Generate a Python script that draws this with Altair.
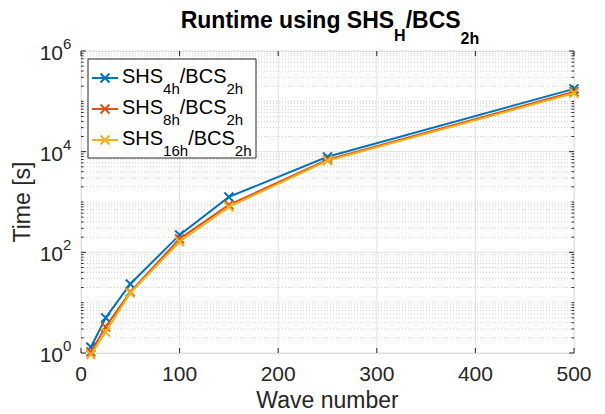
import altair as alt
import pandas as pd

# ---------------- data ----------------
wave = [10, 25, 50, 100, 150, 250, 500]
t_4h = [1.3, 5.0, 23.5, 222, 1260, 7900, 177000]
t_8h = [1.05, 3.3, 16.3, 185, 875, 6900, 155000]
t_16h = [0.93, 2.6, 15.6, 162, 800, 6600, 145000]
series_vals = [t_4h, t_8h, t_16h]
series_sub = ["4h", "8h", "16h"]
colors = ["#0072BD", "#D95319", "#EDB120"]

x_major = [0, 100, 200, 300, 400, 500]
x_labels = ["0", "100", "200", "300", "400", "500"]
y_major = [1, 1e2, 1e4, 1e6]
y_exp = ["0", "2", "4", "6"]
y_minor = [k * 10 ** d for d in range(0, 6) for k in range(2, 10)] + [10, 1e3, 1e5]

FONT = "Liberation Sans"
W, H = 493, 302
AXC = "#262626"

# Arial / Liberation Sans advance widths (em)
REG = {"S": .667, "H": .722, "/": .278, "B": .667, "C": .722, "h": .556,
       "1": .556, "2": .556, "4": .556, "6": .556, "8": .556}
BOLD = {"R": .722, "u": .611, "n": .611, "t": .333, "i": .278, "m": .889,
        "e": .556, " ": .278, "s": .556, "g": .611, "S": .667, "H": .722,
        "/": .278, "B": .722, "C": .722, "2": .556, "h": .611}


def tw(s, size, table):
    return sum(table[c] for c in s) * size


XSHAPE = "M-1,-1L1,1M-1,1L1,-1"
xs = alt.Scale(domain=[0, 500], nice=False, zero=False)
ys = alt.Scale(type="log", domain=[1, 1e6], nice=False)
one = pd.DataFrame({"a": [0]})

layers = []

# grid
layers.append(
    alt.Chart(pd.DataFrame({"v": y_minor})).mark_rule(
        color="#c4c4c4", strokeDash=[1, 2], strokeWidth=0.8
    ).encode(y=alt.Y("v:Q", scale=ys, axis=None), x=alt.value(0), x2=alt.value(W))
)
layers.append(
    alt.Chart(pd.DataFrame({"v": y_major})).mark_rule(color="#e2e2e2", strokeWidth=1).encode(
        y=alt.Y("v:Q", scale=ys, axis=None), x=alt.value(0), x2=alt.value(W))
)
layers.append(
    alt.Chart(pd.DataFrame({"g": x_major})).mark_rule(color="#e2e2e2", strokeWidth=1).encode(
        x=alt.X("g:Q", scale=xs, axis=None), y=alt.value(0), y2=alt.value(H))
)

# series
for vals, c in zip(series_vals, colors):
    d = pd.DataFrame({"wave": wave, "time": vals})
    xenc = alt.X("wave:Q", scale=xs, axis=None)
    yenc = alt.Y("time:Q", scale=ys, axis=None)
    layers.append(alt.Chart(d).mark_line(color=c, strokeWidth=2).encode(x=xenc, y=yenc))
    layers.append(alt.Chart(d).mark_point(
        shape=XSHAPE, filled=False, size=80, strokeWidth=2, color=c, opacity=1
    ).encode(x=xenc, y=yenc))

# inward ticks (left, right for y; bottom, top for x)
for vals, ln in [(y_major, 5), (y_minor, 2.5)]:
    dv = pd.DataFrame({"v": vals})
    layers.append(alt.Chart(dv).mark_rule(color=AXC, strokeWidth=1).encode(
        y=alt.Y("v:Q", scale=ys, axis=None), x=alt.value(0), x2=alt.value(ln)))
    layers.append(alt.Chart(dv).mark_rule(color=AXC, strokeWidth=1).encode(
        y=alt.Y("v:Q", scale=ys, axis=None), x=alt.value(W - ln), x2=alt.value(W)))
dx = pd.DataFrame({"g": x_major, "lab": x_labels})
layers.append(alt.Chart(dx).mark_rule(color=AXC, strokeWidth=1).encode(
    x=alt.X("g:Q", scale=xs, axis=None), y=alt.value(H - 5), y2=alt.value(H)))
layers.append(alt.Chart(dx).mark_rule(color=AXC, strokeWidth=1).encode(
    x=alt.X("g:Q", scale=xs, axis=None), y=alt.value(0), y2=alt.value(5)))

# x tick labels
layers.append(alt.Chart(dx).mark_text(
    align="center", baseline="top", fontSize=21, font=FONT, color=AXC
).encode(x=alt.X("g:Q", scale=xs, axis=None), y=alt.value(H + 11), text="lab:N"))

# y tick labels 10^n
dy_lab = pd.DataFrame({"v": y_major, "e": y_exp})
layers.append(alt.Chart(dy_lab).mark_text(
    align="right", baseline="middle", fontSize=21, font=FONT, color=AXC, dy=3
).encode(y=alt.Y("v:Q", scale=ys, axis=None), x=alt.value(-18), text=alt.value("10")))
layers.append(alt.Chart(dy_lab).mark_text(
    align="left", baseline="middle", fontSize=15, font=FONT, color=AXC, dy=-7
).encode(y=alt.Y("v:Q", scale=ys, axis=None), x=alt.value(-18), text="e:N"))

# axis titles
layers.append(alt.Chart(one).mark_text(
    align="center", baseline="middle", fontSize=23, font=FONT, color=AXC
).encode(x=alt.value(W / 2), y=alt.value(H + 48), text=alt.value("Wave number")))
layers.append(alt.Chart(one).mark_text(
    align="center", baseline="middle", fontSize=23, font=FONT, color=AXC, angle=270
).encode(x=alt.value(-58), y=alt.value(H / 2), text=alt.value("Time [s]")))

# legend
layers.append(alt.Chart(one).mark_rect(fill="white", stroke=AXC, strokeWidth=1).encode(
    x=alt.value(7), x2=alt.value(175), y=alt.value(8), y2=alt.value(107)))
LM, LS = 20, 15
for i, (sub, c) in enumerate(zip(series_sub, colors)):
    ly = 27 + 31 * i
    base = ly + 5
    layers.append(alt.Chart(one).mark_rule(color=c, strokeWidth=2).encode(
        x=alt.value(11), x2=alt.value(37), y=alt.value(ly)))
    layers.append(alt.Chart(one).mark_point(
        shape=XSHAPE, filled=False, size=80, strokeWidth=2, color=c, opacity=1
    ).encode(x=alt.value(24), y=alt.value(ly)))
    px = 41
    pieces = [("SHS", LM, 0), (sub, LS, 10.5), ("/BCS", LM, 0), ("2h", LS, 10.5)]
    for txt, fs, off in pieces:
        layers.append(alt.Chart(one).mark_text(
            align="left", baseline="alphabetic", fontSize=fs, font=FONT, color="black"
        ).encode(x=alt.value(px), y=alt.value(base + off), text=alt.value(txt)))
        px += tw(txt, fs, REG)

# title
TM, TS = 23, 16
tpieces = [("Runtime using SHS", TM, 0), ("H", TS, 13), ("/BCS", TM, 0), ("2h", TS, 16)]
total = sum(tw(t, f, BOLD) for t, f, _ in tpieces)
px = 249 - total / 2
for txt, fs, off in tpieces:
    layers.append(alt.Chart(one).mark_text(
        align="left", baseline="alphabetic", fontSize=fs, font=FONT, fontWeight="bold",
        color="black"
    ).encode(x=alt.value(px), y=alt.value(-23 + off), text=alt.value(txt)))
    px += tw(txt, fs, BOLD)

chart = alt.layer(*layers).properties(
    width=W, height=H,
    autosize=alt.AutoSizeParams(type="none"),
    padding={"left": 81, "top": 51, "right": 31, "bottom": 61},
).configure_view(stroke=AXC, strokeWidth=1).configure(background="white")

chart.save("out.html", embed_options={"renderer": "svg", "actions": False})
